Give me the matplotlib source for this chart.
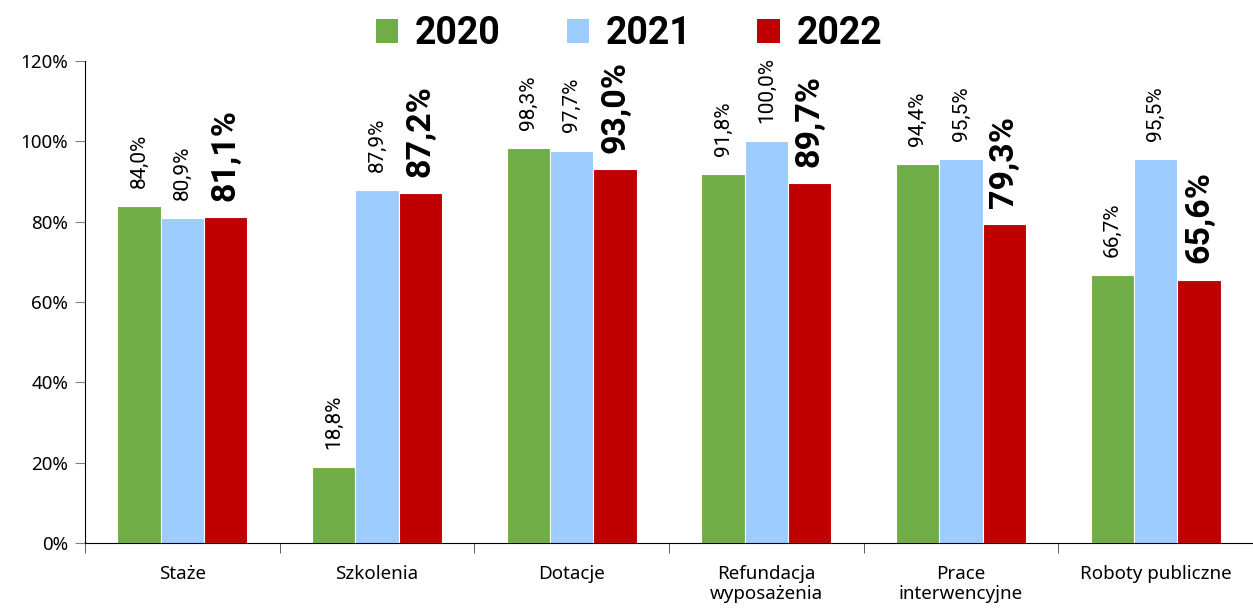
import numpy as np
import matplotlib.pyplot as plt
from matplotlib.patches import Patch

# ── DATA ──────────────────────────────────────────────────────────────────────
categories = ["Staże", "Szkolenia", "Dotacje", "Refundacja\nwyposażenia",
              "Prace\ninterwencyjne", "Roboty publiczne"]
years = ["2020", "2021", "2022"]
v2020 = [84.0, 18.8, 98.3, 91.8, 94.4, 66.7]
v2021 = [80.9, 87.9, 97.7, 100.0, 95.5, 95.5]
v2022 = [81.1, 87.2, 93.0, 89.7, 79.3, 65.6]
yticks = [0, 20, 40, 60, 80, 100, 120]

colors = ["#70AD47", "#9DCCFF", "#C00000"]
AXFONT = "Noto Sans"
VALFONT = "Roboto"

# ── PLOT ──────────────────────────────────────────────────────────────────────
fig = plt.figure(figsize=(12.53, 6.14), dpi=100)
ax = fig.add_axes([85 / 1253, 1 - 543 / 614, 1168 / 1253, (543 - 61) / 614])

x = np.arange(len(categories))
w = 0.223
series = [v2020, v2021, v2022]
for i, (vals, col) in enumerate(zip(series, colors)):
    pos = x + (i - 1) * w
    ax.bar(pos, vals, width=w, color=col, edgecolor="white", linewidth=0.8, zorder=2)
    for p, v in zip(pos, vals):
        txt = f"{v:.1f}%".replace(".", ",")
        if i == 2:
            ax.text(p, v + 4.0, txt, rotation=90, ha="center", va="bottom",
                    fontsize=24.5, fontweight="bold", family=VALFONT)
        else:
            ax.text(p, v + 4.5, txt, rotation=90, ha="center", va="bottom",
                    fontsize=15, family=VALFONT)

ax.set_xlim(-0.5, len(categories) - 0.5)
ax.set_ylim(0, 120)
ax.set_yticks(yticks)
ax.set_yticklabels([f"{t}%" for t in yticks], fontsize=13.5, family=AXFONT)
ax.tick_params(axis="y", direction="out", length=7, color="#808080", pad=5)

ax.set_xticks(x)
ax.set_xticklabels(categories, fontsize=13.5, family=AXFONT, va="top",
                   linespacing=1.1)
ax.tick_params(axis="x", length=0, pad=16)
ax.set_xticks(np.arange(len(categories) + 1) - 0.5, minor=True)
ax.tick_params(axis="x", which="minor", length=7, color="#404040", direction="out")

for s in ["top", "right"]:
    ax.spines[s].set_visible(False)
ax.spines["left"].set_color("black")
ax.spines["bottom"].set_color("black")

handles = [Patch(facecolor=c, label=y) for c, y in zip(colors, years)]
fig.legend(handles=handles, loc="upper center", bbox_to_anchor=(0.502, 1.03),
           ncol=3, frameon=False, handlelength=0.6, handleheight=0.6,
           handletextpad=0.45, columnspacing=1.75,
           prop={"family": VALFONT, "weight": "bold", "size": 27})

fig.savefig("out.png", dpi=100)
